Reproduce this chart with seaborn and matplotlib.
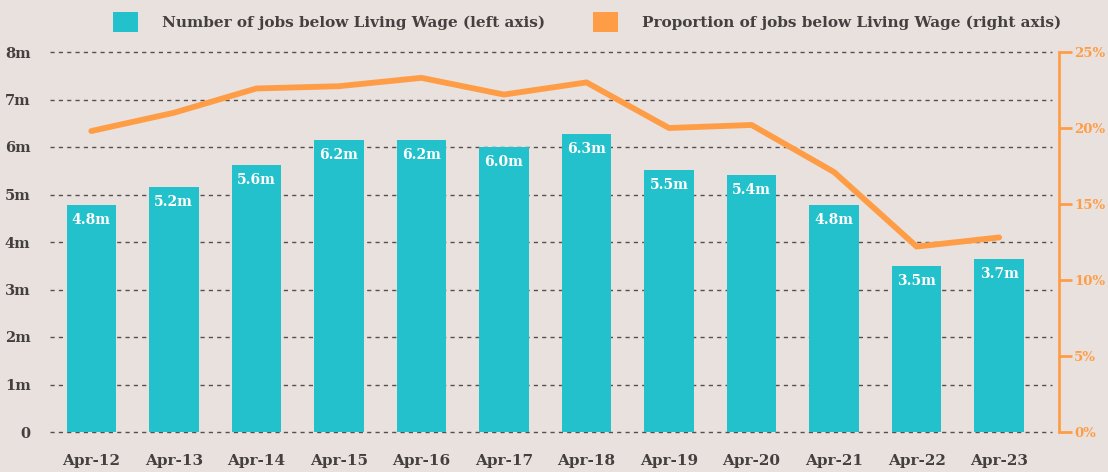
import matplotlib
matplotlib.use("Agg")
import matplotlib.pyplot as plt
from matplotlib.patches import Patch
import seaborn as sns
import pandas as pd

categories = ["Apr-12", "Apr-13", "Apr-14", "Apr-15", "Apr-16", "Apr-17",
              "Apr-18", "Apr-19", "Apr-20", "Apr-21", "Apr-22", "Apr-23"]
jobs_millions = [4.78, 5.15, 5.62, 6.15, 6.15, 6.0, 6.27, 5.52, 5.41, 4.78, 3.49, 3.64]
jobs_labels = ["4.8m", "5.2m", "5.6m", "6.2m", "6.2m", "6.0m", "6.3m", "5.5m",
               "5.4m", "4.8m", "3.5m", "3.7m"]
proportion_pct = [19.8, 21.0, 22.6, 22.75, 23.3, 22.2, 23.0, 20.0, 20.2, 17.1, 12.2, 12.8]
left_ticks = [0, 1, 2, 3, 4, 5, 6, 7, 8]
left_tick_labels = ["0", "1m", "2m", "3m", "4m", "5m", "6m", "7m", "8m"]
right_ticks = [0, 5, 10, 15, 20, 25]
right_tick_labels = ["0%", "5%", "10%", "15%", "20%", "25%"]
legend_labels = ["Number of jobs below Living Wage (left axis)",
                 "Proportion of jobs below Living Wage (right axis)"]

BG = "#E8E1DE"
TEAL = "#22C1CB"
ORANGE = "#FF9D47"
DARK = "#454040"

sns.set_theme(style="white")
plt.rcParams["font.family"] = ["DejaVu Serif"]

df = pd.DataFrame({"period": categories, "jobs": jobs_millions, "prop": proportion_pct})

fig = plt.figure(figsize=(11.08, 4.72), dpi=100, facecolor=BG)
ax = fig.add_axes([50 / 1108, 40 / 472, 1002 / 1108, 380 / 472])
ax.set_facecolor(BG)

sns.barplot(data=df, x="period", y="jobs", color=TEAL, width=0.6,
            saturation=1, ax=ax, zorder=3, edgecolor="none", linewidth=0)

ax.set_ylim(0, 8)
ax.set_xlim(-0.5, 11.64)
ax.set_yticks(left_ticks)
ax.set_yticklabels(left_tick_labels)
ax.yaxis.grid(True, linestyle=(0, (3, 3)), color="#555050", linewidth=1.0, zorder=1)
for gl in ax.get_ygridlines():
    gl.set_clip_on(False)
ax.xaxis.grid(False)
ax.set_axisbelow(True)
for s in ax.spines.values():
    s.set_visible(False)
ax.tick_params(axis="y", length=0, pad=14, labelsize=10.5, labelcolor=DARK)
ax.tick_params(axis="x", length=0, pad=16, labelsize=11, labelcolor=DARK)
for lab in ax.get_yticklabels() + ax.get_xticklabels():
    lab.set_fontweight("bold")
ax.set_xlabel("")
ax.set_ylabel("")

for i, (v, lab) in enumerate(zip(jobs_millions, jobs_labels)):
    ax.annotate(lab, xy=(i, v), xytext=(0, -15), textcoords="offset pixels",
                ha="center", va="center", color="white", fontsize=10,
                fontweight="bold", zorder=5)

ax2 = ax.twinx()
ax2.set_facecolor("none")
sns.lineplot(data=df, x="period", y="prop", sort=False, color=ORANGE,
             linewidth=4.2, ax=ax2, zorder=4)
ax2.set_ylim(0, 25)
ax2.set_yticks(right_ticks)
ax2.set_yticklabels(right_tick_labels)
ax2.set_ylabel("")
ax2.set_xlabel("")
ax2.grid(False)
for k in ["top", "left", "bottom"]:
    ax2.spines[k].set_visible(False)
ax2.spines["right"].set_color(ORANGE)
ax2.spines["right"].set_linewidth(2)
ax2.spines["right"].set_position(("outward", 5))
ax2.tick_params(axis="y", direction="out", length=9, width=2, color=ORANGE,
                labelcolor=ORANGE, labelsize=9.5, pad=2)
for lab in ax2.get_yticklabels():
    lab.set_fontweight("bold")

handles = [Patch(facecolor=TEAL, edgecolor="none"), Patch(facecolor=ORANGE, edgecolor="none")]
leg = fig.legend(handles, legend_labels, loc="center", bbox_to_anchor=(0.53, 0.953),
                 ncol=2, frameon=False, handlelength=1.6, handleheight=1.6,
                 handletextpad=1.6, columnspacing=3.15,
                 prop={"family": "DejaVu Serif", "size": 11, "weight": "bold"})
for t in leg.get_texts():
    t.set_color(DARK)

fig.savefig("out.png", dpi=100, facecolor=BG)
